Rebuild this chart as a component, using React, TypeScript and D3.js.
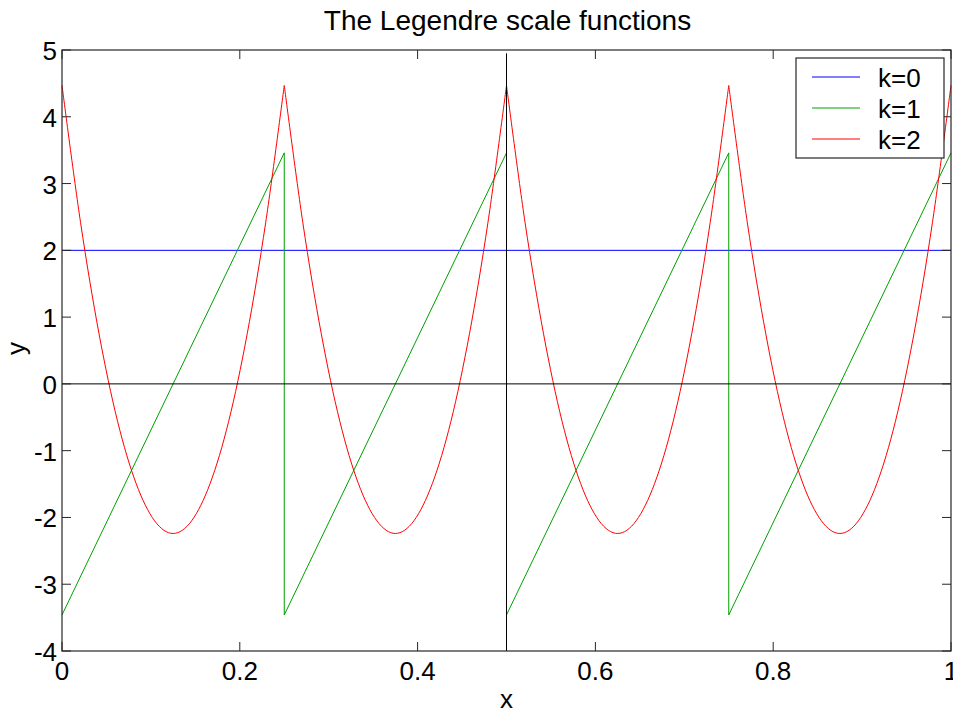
import { useEffect, useRef } from "react";
import * as d3 from "d3";

// values
const cellStarts = [0, 0.25, 0.5, 0.75];
const cellWidth = 0.25;
const k0Value = 2;
const k1Ends = [-3.46, 3.46];
// k=2 inside each cell, sampled at 13 evenly spaced points
const k2Cells = [
  [4.47, 2.42, 0.75, -0.56, -1.49, -2.05, -2.24, -2.05, -1.49, -0.56, 0.75, 2.42, 4.47],
  [4.47, 2.42, 0.75, -0.56, -1.49, -2.05, -2.24, -2.05, -1.49, -0.56, 0.75, 2.42, 4.47],
  [4.47, 2.42, 0.75, -0.56, -1.49, -2.05, -2.24, -2.05, -1.49, -0.56, 0.75, 2.42, 4.47],
  [4.47, 2.42, 0.75, -0.56, -1.49, -2.05, -2.24, -2.05, -1.49, -0.56, 0.75, 2.42, 4.47],
];
const xTicks = [0, 0.2, 0.4, 0.6, 0.8, 1];
const yTicks = [-4, -3, -2, -1, 0, 1, 2, 3, 4, 5];
const legendLabels = ["k=0", "k=1", "k=2"];
const seriesColors = ["#0000ff", "#00a000", "#ff0000"];

const W = 953;
const H = 713;
const margin = { left: 62, top: 50, right: 2, bottom: 62 };
const FONT = "'Liberation Sans', Arial, sans-serif";
const FS = 26;

function App() {
  const ref = useRef<SVGSVGElement | null>(null);

  useEffect(() => {
    const svg = d3.select(ref.current);
    svg.selectAll("*").remove();

    const x = d3.scaleLinear().domain([0, 1]).range([margin.left, W - margin.right]);
    const y = d3.scaleLinear().domain([-4, 5]).range([H - margin.bottom, margin.top]);

    svg.append("rect").attr("width", W).attr("height", H).attr("fill", "#fff");

    const plot = svg.append("g");
    const line = d3.line<[number, number]>().x((d) => x(d[0])).y((d) => y(d[1]));

    // k=0
    plot.append("path")
      .attr("d", line([[0, k0Value], [1, k0Value]]))
      .attr("fill", "none").attr("stroke", seriesColors[0]).attr("stroke-width", 1);

    // k=1 sawtooth
    const k1Pts: [number, number][] = [];
    cellStarts.forEach((s) => {
      k1Pts.push([s, k1Ends[0]]);
      k1Pts.push([s + cellWidth, k1Ends[1]]);
    });
    plot.append("path")
      .attr("d", line(k1Pts))
      .attr("fill", "none").attr("stroke", seriesColors[1]).attr("stroke-width", 1);

    // k=2 parabolas, one path per cell (uniform catmull-rom keeps them smooth)
    const smooth = d3.line<[number, number]>()
      .x((d) => x(d[0])).y((d) => y(d[1]))
      .curve(d3.curveCatmullRom.alpha(0));
    k2Cells.forEach((vals, i) => {
      const pts: [number, number][] = vals.map((v, j) => [
        cellStarts[i] + (cellWidth * j) / (vals.length - 1),
        v,
      ]);
      plot.append("path")
        .attr("d", smooth(pts))
        .attr("fill", "none").attr("stroke", seriesColors[2]).attr("stroke-width", 1);
    });

    // reference lines
    plot.append("line")
      .attr("x1", x(0)).attr("x2", x(1)).attr("y1", y(0)).attr("y2", y(0))
      .attr("stroke", "#000").attr("stroke-width", 1);
    plot.append("line")
      .attr("x1", x(0.5)).attr("x2", x(0.5)).attr("y1", y(-4)).attr("y2", y(4.95))
      .attr("stroke", "#000").attr("stroke-width", 1);

    // axes box with inward ticks on all sides
    const tickLen = 9;
    const axes = svg.append("g").attr("font-family", FONT).attr("font-size", FS);
    axes.append("rect")
      .attr("x", x(0)).attr("y", y(5))
      .attr("width", x(1) - x(0)).attr("height", y(-4) - y(5))
      .attr("fill", "none").attr("stroke", "#262626").attr("stroke-width", 1.2);

    xTicks.forEach((t) => {
      axes.append("line")
        .attr("x1", x(t)).attr("x2", x(t)).attr("y1", y(-4)).attr("y2", y(-4) - tickLen)
        .attr("stroke", "#262626");
      axes.append("line")
        .attr("x1", x(t)).attr("x2", x(t)).attr("y1", y(5)).attr("y2", y(5) + tickLen)
        .attr("stroke", "#262626");
      axes.append("text")
        .attr("x", x(t)).attr("y", y(-4) + 29)
        .attr("text-anchor", "middle").text(String(t));
    });
    yTicks.forEach((t) => {
      axes.append("line")
        .attr("x1", x(0)).attr("x2", x(0) + tickLen).attr("y1", y(t)).attr("y2", y(t))
        .attr("stroke", "#262626");
      axes.append("line")
        .attr("x1", x(1)).attr("x2", x(1) - tickLen).attr("y1", y(t)).attr("y2", y(t))
        .attr("stroke", "#262626");
      axes.append("text")
        .attr("x", x(0) - 5).attr("y", y(t) + 10)
        .attr("text-anchor", "end").text(String(t));
    });

    // labels
    svg.append("text")
      .attr("x", (x(0) + x(1)) / 2 + 1).attr("y", 30)
      .attr("text-anchor", "middle").attr("font-family", FONT).attr("font-size", 28)
      .text("The Legendre scale functions");
    svg.append("text")
      .attr("x", (x(0) + x(1)) / 2).attr("y", 708)
      .attr("text-anchor", "middle").attr("font-family", FONT).attr("font-size", FS)
      .text("x");
    svg.append("text")
      .attr("transform", `translate(25, ${(y(-4) + y(5)) / 2 - 2}) rotate(-90)`)
      .attr("text-anchor", "middle").attr("font-family", FONT).attr("font-size", FS)
      .text("y");

    // legend
    const lg = svg.append("g").attr("font-family", FONT).attr("font-size", FS);
    lg.append("rect")
      .attr("x", 796).attr("y", 58).attr("width", 148).attr("height", 100)
      .attr("fill", "#fff").attr("stroke", "#262626").attr("stroke-width", 1.2);
    legendLabels.forEach((lab, i) => {
      const cy = 77 + i * 31;
      lg.append("line")
        .attr("x1", 812).attr("x2", 860).attr("y1", cy).attr("y2", cy)
        .attr("stroke", seriesColors[i]).attr("stroke-width", 1);
      lg.append("text").attr("x", 878).attr("y", cy + 10).text(lab);
    });
  }, []);

  return (
    <svg
      ref={ref}
      width={W}
      height={H}
      style={{ position: "absolute", left: 0, top: 0, display: "block" }}
    />
  );
}

export default App;
